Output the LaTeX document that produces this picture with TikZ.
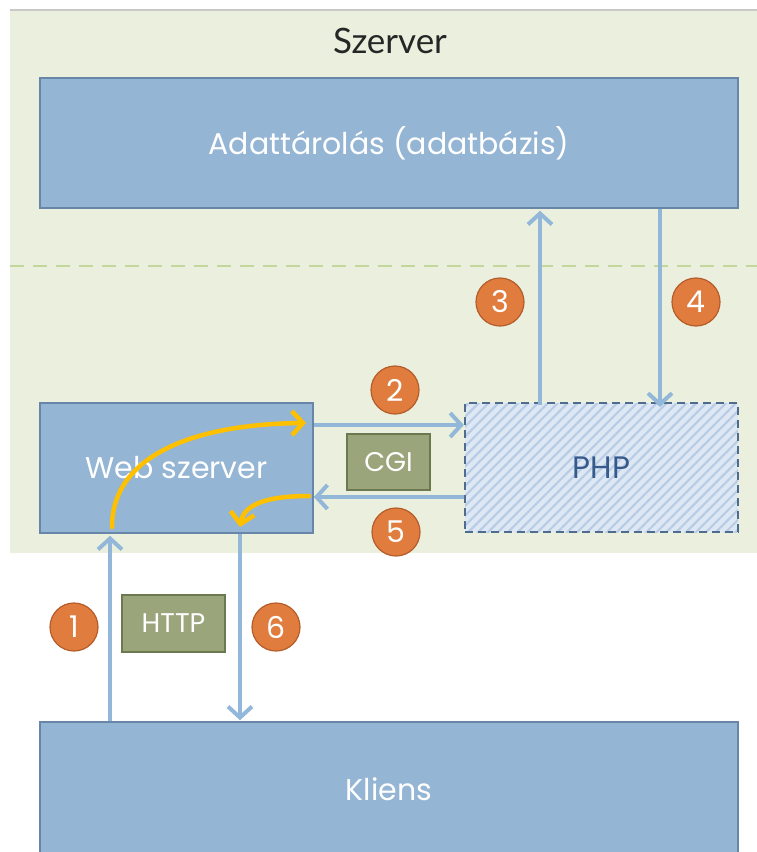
\documentclass[tikz,border=0pt]{standalone}
\usepackage{fontspec}
\setmainfont{Lato}
\newfontfamily\geo{Poppins}
\usetikzlibrary{arrows.meta,patterns.meta}

\definecolor{srvbg}{RGB}{235,240,222}
\definecolor{srvline}{RGB}{200,200,200}
\definecolor{sep}{RGB}{195,214,155}
\definecolor{boxfill}{RGB}{148,181,211}
\definecolor{boxline}{RGB}{104,134,168}
\definecolor{flow}{RGB}{147,183,216}
\definecolor{phpfill}{RGB}{222,232,244}
\definecolor{phpstripe}{RGB}{184,205,229}
\definecolor{phpline}{RGB}{79,108,143}
\definecolor{phptext}{RGB}{55,90,140}
\definecolor{tagfill}{RGB}{155,165,123}
\definecolor{tagline}{RGB}{108,120,80}
\definecolor{stepfill}{RGB}{224,125,62}
\definecolor{stepline}{RGB}{180,92,42}
\definecolor{route}{RGB}{255,192,0}

\tikzset{
  layer/.style={draw=boxline, line width=1.5pt, fill=boxfill, text=white,
    font=\geo\fontsize{30}{34}\selectfont, inner sep=0pt},
  tag/.style={draw=tagline, line width=1.5pt, fill=tagfill, text=white,
    font=\geo\fontsize{27}{30}\selectfont, inner sep=0pt},
  stepnum/.style={circle, draw=stepline, line width=1.2pt, fill=stepfill,
    text=white, minimum size=48pt, inner sep=0pt,
    font=\geo\fontsize{30}{32}\selectfont},
  flowarrow/.style={draw=flow, line width=4pt,
    -{Straight Barb[length=11pt,width=24pt]}},
  routearrow/.style={draw=route, line width=4.5pt, line cap=round,
    -{Straight Barb[length=11pt,width=24pt]}},
}

\begin{document}
\begin{tikzpicture}[x=1pt, y=-1pt]
\useasboundingbox (0,0) rectangle (757,852);

% server area
\fill[srvbg] (10,10) rectangle (757,553);
\draw[srvline, line width=1.5pt] (10,10) -- (757,10);
\node[text=black!85] (title) at (390,41) {\fontsize{35}{38}\selectfont Szerver};
\draw[sep, line width=2.5pt, dash pattern=on 14pt off 9pt] (10,266) -- (757,266);

% boxes
\node[layer, minimum width=698pt, minimum height=130pt] (db) at (389,143) {Adattárolás (adatbázis)};
\node[layer, minimum width=273pt, minimum height=130pt] (web) at (176.5,468) {Web szerver};
\node[draw=phpline, line width=2pt, dash pattern=on 8pt off 5pt,
      preaction={fill=phpfill},
      pattern={Lines[angle=45,distance=7pt,line width=2.2pt]}, pattern color=phpstripe,
      minimum width=273pt, minimum height=129pt, inner sep=0pt,
      text=phptext, font=\geo\fontsize{31}{34}\selectfont] (php) at (601.5,467.5) {PHP};
\node[layer, minimum width=698pt, minimum height=134pt] (kl) at (389,789) {Kliens};

% protocol tags
\node[tag, minimum width=83pt, minimum height=56pt] (cgi) at (388.5,462) {CGI};
\node[tag, minimum width=103pt, minimum height=57pt] (http) at (173.5,623.5) {HTTP};

% anchor columns for the vertical flows
\coordinate (c1) at (110,0);
\coordinate (c6) at (240,0);
\coordinate (c3) at (540,0);
\coordinate (c4) at (660,0);
\coordinate (r2) at (0,425);
\coordinate (r5) at (0,497);

% flows
\draw[flowarrow] (kl.north -| c1) -- ([yshift=-2pt]web.south -| c1);
\draw[flowarrow] (web.east |- r2) -- (php.west |- r2);
\draw[flowarrow] ([yshift=-3pt]php.north -| c3) -- ([yshift=-2pt]db.south -| c3);
\draw[flowarrow] (db.south -| c4) -- ([yshift=-5pt]php.north -| c4);
\draw[flowarrow] (php.west |- r5) -- (web.east |- r5);
\draw[flowarrow] (web.south -| c6) -- ([yshift=1pt]kl.north -| c6);

% route through the web server
\coordinate (ya) at (112,527);
\coordinate (yb) at (306,423);
\coordinate (yc) at (309,496);
\coordinate (yd) at (240,527);
\draw[routearrow] (ya) .. controls (112,455) and (195,424) .. (yb);
\draw[routearrow] (yc) .. controls (268,496) and (244,504) .. (yd);

% step numbers
\node[stepnum] (s1) at (74,627) {1};
\node[stepnum] (s2) at (395,390) {2};
\node[stepnum] (s3) at (500,302) {3};
\node[stepnum] (s4) at (696,302) {4};
\node[stepnum] (s5) at (396,532) {5};
\node[stepnum] (s6) at (276,627) {6};
\end{tikzpicture}
\end{document}
